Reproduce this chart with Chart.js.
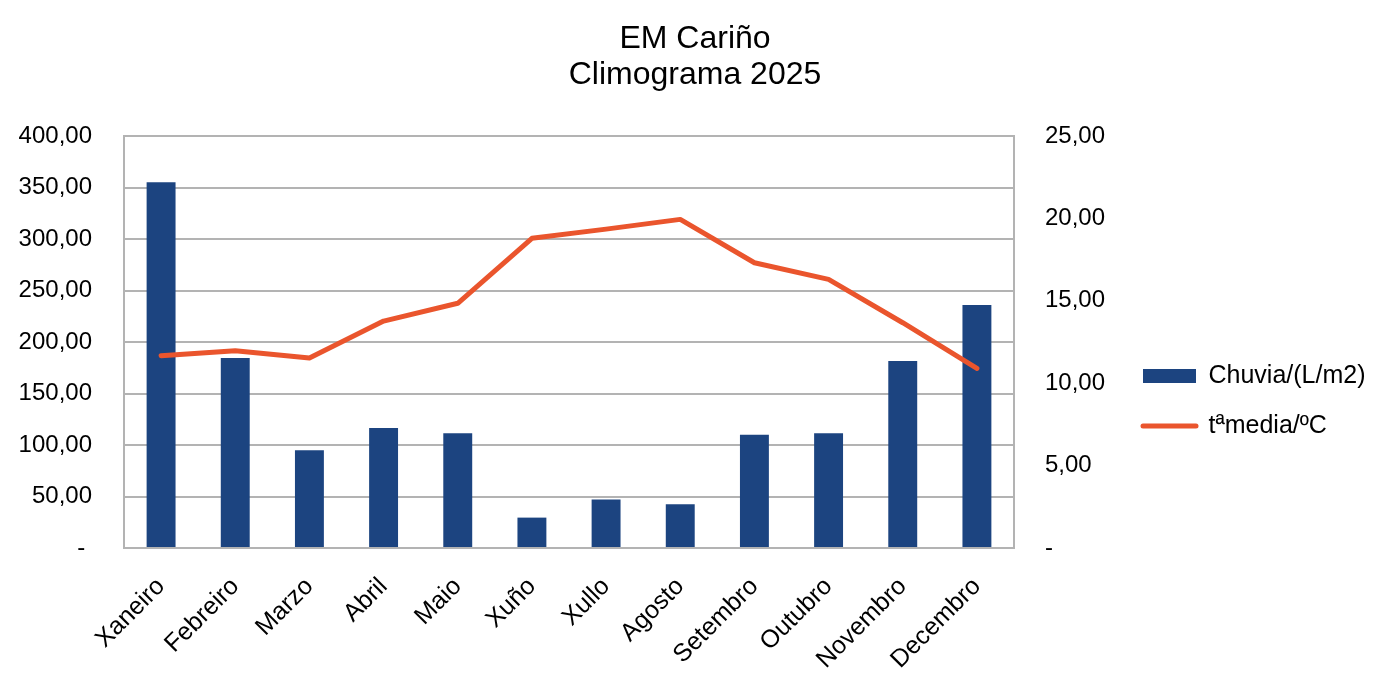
<!DOCTYPE html>
<html>
<head>
<meta charset="utf-8">
<script src="https://cdn.jsdelivr.net/npm/chart.js@4.4.1/dist/chart.umd.min.js"></script>
<style>
html,body{margin:0;padding:0;background:#ffffff;}
#wrap{width:1400px;height:698px;}
</style>
</head>
<body>
<div id="wrap"><canvas id="c" width="1400" height="698"></canvas></div>
<script>
const months = ['Xaneiro','Febreiro','Marzo','Abril','Maio','Xuño','Xullo','Agosto','Setembro','Outubro','Novembro','Decembro'];
const rain = [355, 184.5, 95, 116.5, 111.5, 29.5, 47, 42.5, 110, 111.5, 181.5, 236];
const temp = [11.67, 11.97, 11.53, 13.77, 14.85, 18.79, 19.35, 19.94, 17.31, 16.3, 13.67, 10.9];
const rainTickLabels = ['-\u00a0','50,00','100,00','150,00','200,00','250,00','300,00','350,00','400,00'];
const tempTickLabels = ['-','5,00','10,00','15,00','20,00','25,00'];
const titleLines = ['EM Cariño','Climograma 2025'];
const seriesNames = ['Chuvia/(L/m2)','tªmedia/ºC'];

const BAR_COLOR = '#1C4480';
const LINE_COLOR = '#EA552D';
const GRID = '#b3b3b3';
const FONT = "'Liberation Sans', Arial, sans-serif";

const legendPlace = {
  id: 'legendPlace',
  afterLayout(chart) {
    const l = chart.legend;
    if (l) {
      l.top += 104;
      l.left = 1118;
      l.right = 1400;
      l.width = 282;
    }
  }
};

new Chart(document.getElementById('c'), {
  data: {
    labels: months,
    datasets: [
      {
        type: 'bar',
        label: seriesNames[0],
        data: rain,
        yAxisID: 'y',
        backgroundColor: BAR_COLOR,
        borderWidth: 0,
        barPercentage: 0.39,
        categoryPercentage: 1.0,
        pointStyle: 'rect',
        order: 1
      },
      {
        type: 'line',
        label: seriesNames[1],
        data: temp,
        yAxisID: 'y1',
        borderColor: LINE_COLOR,
        backgroundColor: LINE_COLOR,
        borderWidth: 5,
        tension: 0,
        pointRadius: 0,
        pointHoverRadius: 0,
        pointBorderWidth: 5,
        pointStyle: 'line',
        borderJoinStyle: 'round',
        borderCapStyle: 'round',
        order: 0
      }
    ]
  },
  options: {
    responsive: false,
    animation: false,
    devicePixelRatio: 1,
    layout: { padding: { left: 0, right: 10, top: 0, bottom: 0 } },
    plugins: {
      tooltip: { enabled: false },
      title: {
        display: true,
        text: titleLines,
        color: '#000000',
        font: { family: FONT, size: 32, weight: 'normal', lineHeight: 1.125 },
        padding: { top: 21, bottom: 43 }
      },
      legend: {
        display: true,
        position: 'right',
        align: 'center',
        labels: {
          usePointStyle: true,
          pointStyleWidth: 53,
          boxHeight: 14,
          padding: 25,
          color: '#000000',
          font: { family: FONT, size: 25 },
          generateLabels(chart) {
            const items = Chart.defaults.plugins.legend.labels.generateLabels(chart);
            items.forEach(it => {
              if (it.datasetIndex === 1) {
                it.lineCap = 'round';
                it.lineWidth = 5;
                it.strokeStyle = LINE_COLOR;
                it.fillStyle = LINE_COLOR;
              } else {
                it.lineWidth = 0;
                it.fillStyle = BAR_COLOR;
              }
            });
            return items.sort((a, b) => a.datasetIndex - b.datasetIndex);
          }
        }
      }
    },
    scales: {
      x: {
        offset: true,
        grid: { display: false, drawTicks: false },
        border: { display: true, color: GRID, width: 2 },
        ticks: {
          autoSkip: false,
          maxRotation: 45,
          minRotation: 45,
          padding: 24,
          color: '#000000',
          font: { family: FONT, size: 25 }
        },
        afterFit(s) { s.height = 150; }
      },
      y: {
        position: 'left',
        min: 0,
        max: 400,
        ticks: {
          stepSize: 50,
          padding: 32,
          color: '#000000',
          font: { family: FONT, size: 24 },
          callback: (v, i) => rainTickLabels[i]
        },
        grid: { color: GRID, lineWidth: 2, drawTicks: false },
        border: { display: true, color: GRID, width: 2 },
        afterFit(s) { s.width = 124; }
      },
      y1: {
        position: 'right',
        min: 0,
        max: 25,
        ticks: {
          stepSize: 5,
          padding: 31,
          color: '#000000',
          font: { family: FONT, size: 24 },
          callback: (v, i) => tempTickLabels[i]
        },
        grid: { display: false, drawTicks: false },
        border: { display: true, color: GRID, width: 2 },
        afterFit(s) {
          const lw = (s.chart.legend && s.chart.legend.width) ? s.chart.legend.width : 230;
          s.width = 1400 - 10 - lw - 1014;
        }
      }
    }
  },
  plugins: [legendPlace]
});
</script>
</body>
</html>
